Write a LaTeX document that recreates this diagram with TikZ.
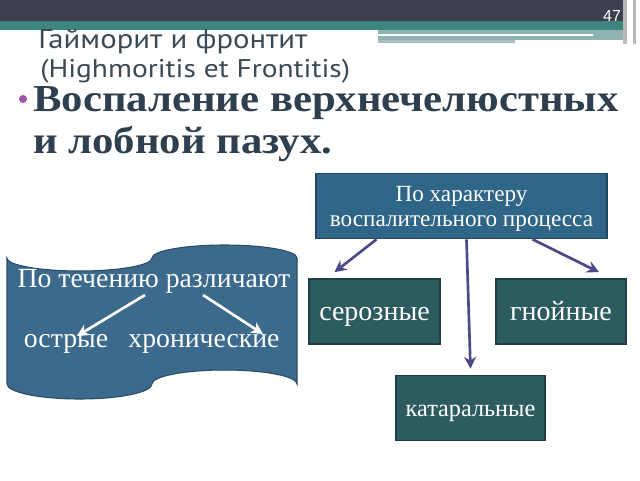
\documentclass[tikz,border=0pt]{standalone}
\usepackage{fontspec}
\setmainfont{Liberation Serif}
\newfontfamily\titlefont[FakeStretch=1.13]{PT Sans}
\newfontfamily\subtitlefont[FakeStretch=1.15]{PT Sans}
\newfontfamily\bodyfont[FakeStretch=1.12]{Liberation Serif}
\newfontfamily\numfont{Liberation Sans}
\usetikzlibrary{arrows.meta}
\definecolor{hdark}{HTML}{3F3F52}
\definecolor{hteal}{HTML}{3E8580}
\definecolor{hgrey}{HTML}{8FB3B0}
\definecolor{hlight}{HTML}{A9BFBE}
\definecolor{titlec}{HTML}{3B4A55}
\definecolor{bodyc}{HTML}{2E3F4F}
\definecolor{bulletc}{HTML}{A050A8}
\definecolor{topfill}{HTML}{2F6587}
\definecolor{topdraw}{HTML}{1F4763}
\definecolor{boxfill}{HTML}{2C5B60}
\definecolor{boxdraw}{HTML}{1E3F43}
\definecolor{arrowc}{HTML}{4B4A88}
\definecolor{banfill}{HTML}{3B6A8D}
\definecolor{bandraw}{HTML}{2A4A66}
\tikzset{
  topbox/.style={draw=topdraw, line width=1.2pt, fill=topfill, minimum width=291*0.75pt, minimum height=65*0.75pt, inner sep=0pt},
  toptext/.style={text=white, inner sep=0pt, anchor=base, font=\fontsize{17.4}{19.5}\selectfont},
  catbox/.style={draw=boxdraw, line width=1.2pt, fill=boxfill, text=white, minimum height=65*0.75pt, inner sep=0pt, text depth=0pt},
  flow/.style={draw=arrowc, line width=2pt, -{Stealth[length=9pt,width=9pt,inset=3pt]}},
  wflow/.style={draw=white, line width=2pt, -{Stealth[length=9pt,width=9pt,inset=3pt]}},
  bantext/.style={text=white, font=\fontsize{20.8}{22}\selectfont, inner sep=0pt, anchor=base},
  bodytext/.style={anchor=base west, text=bodyc, font=\bodyfont\bfseries\fontsize{28.6}{30}\selectfont, inner sep=0pt},
}
\begin{document}
\begin{tikzpicture}[x=0.75pt,y=-0.75pt]
\useasboundingbox (0,0) rectangle (640,480);
\fill[white] (0,0) rectangle (640,480);
% header bands
\fill[hdark] (0,0) rectangle (627,21);
\fill[hteal] (0,21) rectangle (627,30);
\fill[hgrey] (378,30) rectangle (627,40);
\draw[white, line width=1.2pt] (378,35) -- (593,35);
\fill[hlight] (378,40) rectangle (515,43);
\fill[white] (515,40) rectangle (627,43);
\fill[gray!55] (623,0) rectangle (627,44);
\fill[gray!55] (633,0) rectangle (636,44);
\node[text=white, font=\numfont\fontsize{12}{13}\selectfont] (pg) at (612,16) {47};
% title
\node[anchor=base west, text=titlec, font=\titlefont\fontsize{20.4}{22}\selectfont, inner sep=0pt] (t1) at (38,48) {Гайморит и фронтит};
\node[anchor=base west, text=titlec, font=\subtitlefont\fontsize{19.2}{21}\selectfont, inner sep=0pt] (t2) at (40,77.5) {(Highmoritis et Frontitis)};
% bullet
\fill[bulletc] (23,99) circle (4);
\node[bodytext] (b1) at (33,111) {Воспаление верхнечелюстных};
\node[bodytext] (b2) at (33,153) {и лобной пазух.};
% banner
\path[fill=banfill, draw=bandraw, line width=0.8pt]
  (7,258) arc[start angle=180, end angle=0, x radius=72.5, y radius=13]
  arc[start angle=180, end angle=360, x radius=72.5, y radius=13]
  -- (297,384)
  arc[start angle=0, end angle=-180, x radius=72.5, y radius=14]
  arc[start angle=0, end angle=180, x radius=72.5, y radius=15]
  -- cycle;
\node[bantext] (tech) at (154,287) {По течению различают};
\node[bantext] (ostr) at (66,347) {острые};
\node[bantext] (hron) at (204,347) {хронические};
\coordinate (ws1) at (145,295);
\coordinate (we1) at (77,336);
\coordinate (ws2) at (203,295);
\coordinate (we2) at (263,334);
\draw[wflow] (ws1) -- (we1);
\draw[wflow] (ws2) -- (we2);
% right diagram
\node[topbox] (top) at (461.5,206) {};
\node[toptext] (toptxt1) at (461.5,201) {По характеру};
\node[toptext] (toptxt2) at (461.5,226) {воспалительного процесса};
\node[catbox, minimum width=131*0.75pt, text height=12.75pt, font=\fontsize{21}{22}\selectfont] (ser) at (374.5,311.5) {серозные};
\node[catbox, minimum width=130*0.75pt, text height=12.75pt, font=\fontsize{21}{22}\selectfont] (gno) at (561,311.5) {гнойные};
\node[catbox, minimum width=149*0.75pt, text height=12pt, font=\fontsize{18.2}{20}\selectfont] (kat) at (470.5,408) {катаральные};
\draw[flow] ([xshift=-85*0.75pt]top.south) -- ([xshift=-40*0.75pt, yshift=6*0.75pt]ser.north);
\draw[flow] ([xshift=5*0.75pt]top.south) -- ([yshift=6*0.75pt]kat.north);
\draw[flow] ([xshift=71*0.75pt]top.south) -- ([xshift=38*0.75pt, yshift=6*0.75pt]gno.north);
\end{tikzpicture}
\end{document}
